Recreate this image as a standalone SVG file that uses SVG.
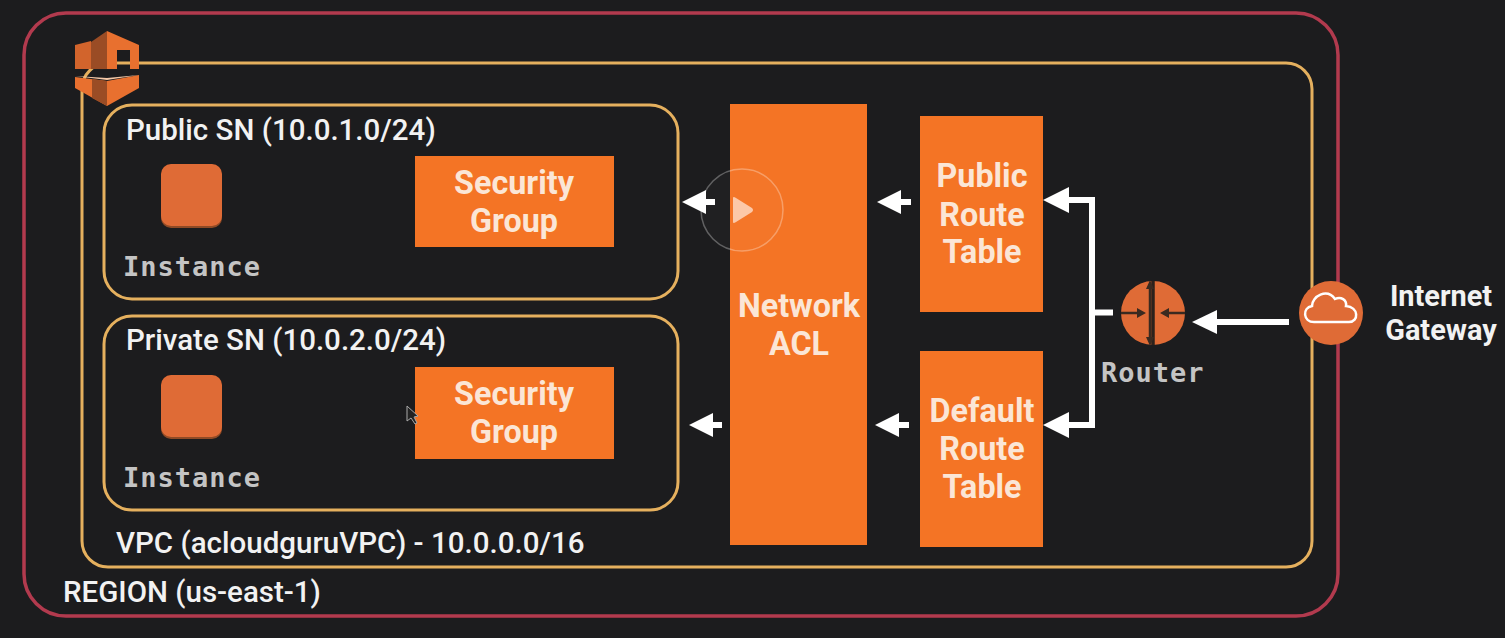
<svg xmlns="http://www.w3.org/2000/svg" width="1505" height="638" viewBox="0 0 1505 638">
<style>
.t{font-family:Roboto,"Liberation Sans",sans-serif;font-weight:500;fill:#f2f2f2;font-size:29.5px}
.w{font-family:Roboto,"Liberation Sans",sans-serif;font-weight:700;fill:#fbe6d6;font-size:32.3px;text-anchor:middle}
.g{font-family:Roboto,"Liberation Sans",sans-serif;font-weight:700;fill:#f2f2f2;font-size:28.9px;text-anchor:middle}
.m{font-family:"DejaVu Sans Mono","Liberation Mono",monospace;font-weight:700;fill:#c4c4c4;font-size:27px;letter-spacing:1px}
.o{fill:#f47425}
.b{fill:none;stroke:#e5b05e;stroke-width:3}
.c{stroke:#fff;stroke-width:6;fill:none}
.i{fill:#df6b36}
.s{fill:#8f4a25}
.h{fill:#fff}
</style>
<rect width="1505" height="638" fill="#1c1c1e"/>
<g id="region"><rect x="24" y="13" width="1314" height="603" rx="42" fill="none" stroke="#b23a4e" stroke-width="3.5"/><text class="t" x="63" y="602">REGION (us-east-1)</text></g>
<g id="vpc"><rect x="82" y="63" width="1230" height="504" rx="26" class="b"/><text class="t" x="116" y="553">VPC (acloudguruVPC) - 10.0.0.0/16</text></g>
<g id="vpc-icon">
<path d="M91 42 L107 31 V69 H91 Z" fill="#9a4c25"/>
<path d="M107 31 L139 45 V69 H130 V50 H117 V69 H107 Z" fill="#e8702f"/>
<path d="M75 45 L91 41 V69 H75 Z" fill="#d2642c"/>
<path d="M75 77 L107 81 L139 75 V88 L107 106 L75 88 Z" fill="#e8702f"/>
<path d="M92 79 L107 81 V106 L92 98 Z" fill="#9a4c25"/>
<path d="M75 76 L107 80 L139 75 L107 78 Z" fill="#f5c9a8"/>
</g>
<g id="public-sn"><rect x="104" y="105" width="574" height="194" rx="28" class="b"/><text class="t" x="126" y="140">Public SN (10.0.1.0/24)</text></g>
<g id="private-sn"><rect x="104" y="316" width="574" height="194" rx="28" class="b"/><text class="t" x="126" y="350">Private SN (10.0.2.0/24)</text></g>
<g id="instance-1"><rect x="161" y="166" width="61" height="62" rx="10" class="s"/><rect x="161" y="164" width="61" height="62" rx="10" class="i"/><text class="m" x="123" y="276">Instance</text></g>
<g id="instance-2"><rect x="161" y="377" width="61" height="62" rx="10" class="s"/><rect x="161" y="375" width="61" height="62" rx="10" class="i"/><text class="m" x="123" y="487">Instance</text></g>
<g id="sg-1"><rect x="415" y="156" width="199" height="91" class="o"/><text class="w" x="514" y="194">Security</text><text class="w" x="514" y="232">Group</text></g>
<g id="sg-2"><rect x="415" y="367" width="199" height="92" class="o"/><text class="w" x="514" y="405">Security</text><text class="w" x="514" y="443">Group</text></g>
<g id="nacl"><rect x="730" y="104" width="137" height="441" class="o"/><text class="w" x="799" y="317">Network</text><text class="w" x="799" y="355">ACL</text></g>
<g id="public-rt"><rect x="920" y="116" width="123" height="196" class="o"/><text class="w" x="982" y="187">Public</text><text class="w" x="982" y="226">Route</text><text class="w" x="982" y="263">Table</text></g>
<g id="default-rt"><rect x="920" y="351" width="123" height="196" class="o"/><text class="w" x="982" y="422">Default</text><text class="w" x="982" y="460">Route</text><text class="w" x="982" y="498">Table</text></g>
<g id="connectors">
<path class="c" d="M715 202 H700"/><path class="h" d="M682 202 L706 190 V214 Z"/>
<path class="c" d="M722 425 H708"/><path class="h" d="M689 425 L713 413 V437 Z"/>
<path class="c" d="M911 202 H895"/><path class="h" d="M877 202 L901 190 V214 Z"/>
<path class="c" d="M909 425 H893"/><path class="h" d="M875 425 L899 413 V437 Z"/>
<path class="c" d="M1113 312.500 H1092 M1062 200 H1092 V425 H1062"/>
<path class="h" d="M1043 200 L1069 187 V213 Z"/><path class="h" d="M1043 425 L1069 412 V438 Z"/>
<path class="c" d="M1289 322 H1212"/><path class="h" d="M1192 322 L1217 310 V334 Z"/>
</g>
<g id="router"><circle cx="1153" cy="313" r="32" fill="#df6b36"/>
<path d="M1153 281 V345" stroke="#2c211b" stroke-width="3.500" fill="none"/>
<path d="M1150 284 V342 M1121 313 H1140 M1185 313 H1166" stroke="#3a2a20" stroke-width="2.500" fill="none"/>
<path d="M1150 280 L1146 289 H1154 Z M1150 346 L1146 337 H1154 Z M1146 313 L1137 308 V318 Z M1160 313 L1169 308 V318 Z" fill="#3a2a20"/>
<text class="m" x="1101" y="382">Router</text></g>
<g id="igw"><circle cx="1331" cy="313" r="32" fill="#df6b36"/>
<path d="M1314 322 C1303 322 1302 308 1312 306 C1312 296 1327 288 1335 299 C1341 296 1347 300 1346 306 C1359 307 1359 322 1349 322 Z" fill="none" stroke="#fff" stroke-width="2.500"/>
<text class="g" x="1441" y="306">Internet</text><text class="g" x="1441" y="340">Gateway</text></g>
<g id="player"><circle cx="742" cy="210" r="41" fill="#fff" fill-opacity=".02" stroke="#fff" stroke-opacity=".3" stroke-width="1.500"/><path d="M733 198 Q733 196 736 198 L752 208 Q754 210 752 212 L736 222 Q733 224 733 222 Z" fill="#fcc8a8"/></g>
<g id="cursor"><path d="M407 406 V421 L411 418 L415 424 L417 423 L414 417 L418 416 Z" fill="#222" stroke="#aaa" stroke-width="1"/></g>
</svg>
